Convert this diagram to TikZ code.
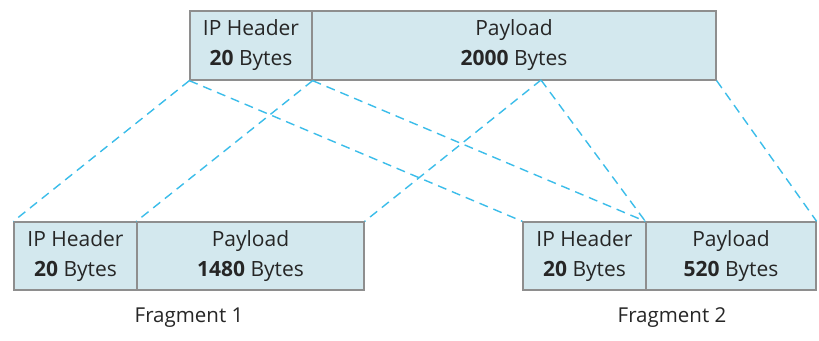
\documentclass[tikz,border=0pt]{standalone}
\usepackage{fontspec}
\setmainfont{Open Sans}
\begin{document}
\begin{tikzpicture}[x=1pt,y=-1pt,
  cell/.style={draw=boxgray,line width=1.3pt,fill=cellblue,inner sep=0pt,
    align=center,font=\fontsize{21}{30}\selectfont,text=black!85},
  split/.style={draw=linkblue,line width=1.4pt,dash pattern=on 9pt off 6pt},
  caption/.style={font=\fontsize{20.5}{24}\selectfont,text=black!85}]
\definecolor{cellblue}{HTML}{D3E8EE}
\definecolor{boxgray}{HTML}{8E8E8E}
\definecolor{linkblue}{HTML}{3BBDEA}
\useasboundingbox[fill=white] (0,0) rectangle (819,340);
% original datagram
\node[cell,minimum width=122pt,minimum height=69pt] (oh) at (251,45.5) {IP Header\\\textbf{20} Bytes};
\node[cell,minimum width=404pt,minimum height=69pt] (op) at (514,45.5) {Payload\\\textbf{2000} Bytes};
% fragment 1
\node[cell,minimum width=123pt,minimum height=68pt] (ah) at (75.5,256) {IP Header\\\textbf{20} Bytes};
\node[cell,minimum width=227pt,minimum height=68pt] (ap) at (250.5,256) {Payload\\\textbf{1480} Bytes};
% fragment 2
\node[cell,minimum width=123pt,minimum height=68pt] (bh) at (584.5,256) {IP Header\\\textbf{20} Bytes};
\node[cell,minimum width=170pt,minimum height=68pt] (bp) at (731,256) {Payload\\\textbf{520} Bytes};
\node[caption] (fa) at (189,318) {Fragment 1};
\node[caption] (fb) at (672,318) {Fragment 2};
% split point of the payload
\coordinate (cut) at (541,80);
\draw[split] (oh.south west) -- (ah.north west);
\draw[split] (oh.south west) -- (bh.north west);
\draw[split] (oh.south east) -- (ap.north west);
\draw[split] (oh.south east) -- (bp.north west);
\draw[split] (cut) -- (ap.north east);
\draw[split] (cut) -- (bp.north west);
\draw[split] (op.south east) -- (bp.north east);
\end{tikzpicture}
\end{document}
